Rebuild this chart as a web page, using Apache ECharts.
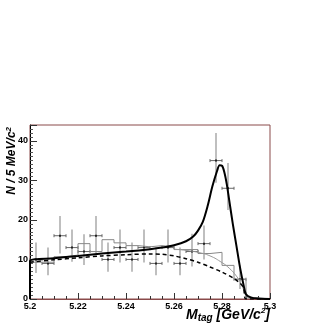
<!DOCTYPE html>
<html>
<head>
<meta charset="utf-8">
<script src="https://cdn.jsdelivr.net/npm/echarts@6/dist/echarts.min.js"></script>
<style>
  html, body { margin: 0; padding: 0; background: #fff; }
  #main { width: 324px; height: 324px; }
</style>
</head>
<body>
<div id="main"></div>
<script>
// bin centres of the data points (5 MeV bins)
const binCenters = [5.2025, 5.2075, 5.2125, 5.2175, 5.2225, 5.2275, 5.2325, 5.2375, 5.2425,
  5.2475, 5.2525, 5.2575, 5.2625, 5.2675, 5.2725, 5.2775, 5.2825, 5.2875];
const counts = [10, 9, 16, 13, 12, 16, 10, 13, 10, 13, 9, 13, 9, 12, 14, 35, 28, 5];
const errHi  = [14.3, 13, 21, 17.6, 16.4, 21, 14.3, 17.6, 14.3, 17.6, 13, 17.6, 13, 16.5, 18.6, 42, 34.4, 8.5];
const errLo  = [6.6, 6, 11.5, 9.4, 8.6, 11.5, 6.9, 9.2, 6.9, 9.2, 6, 9.2, 6, 8.2, 10, 29.4, 22.5, 2.5];

// grey histogram (MC), bin edges and contents
const histEdges = [5.200, 5.205, 5.210, 5.215, 5.220, 5.225, 5.230, 5.235, 5.240, 5.245, 5.250,
  5.255, 5.260, 5.265, 5.270, 5.275, 5.280, 5.285, 5.290, 5.295, 5.300];
const histVals = [9.3, 9.3, 10.7, 11.1, 14, 12, 15, 14.2, 13.5, 13.2, 13.5, 13.2, 12.5, 12.5,
  11.5, 11.8, 8.5, 5, 0.3, 0];

// total fit (solid)
const fitX = [5.2, 5.2, 5.21, 5.22, 5.23, 5.24, 5.25, 5.255, 5.26, 5.265, 5.268, 5.27, 5.272, 5.274,
  5.276, 5.278, 5.279, 5.28, 5.281, 5.282, 5.283, 5.2845, 5.286, 5.2875, 5.289, 5.29, 5.292, 5.295, 5.3];
const fitY = [0, 9.6, 10.3, 10.9, 11.5, 12.0, 12.6, 13.0, 13.6, 14.6, 15.8, 17.3, 19.5, 23.5,
  28.5, 32.5, 33.8, 33.7, 32, 29, 25, 19, 13.5, 8, 3.5, 1.2, 0.4, 0.1, 0];

// background (dashed)
const bkgX = [5.2, 5.21, 5.22, 5.23, 5.24, 5.25, 5.255, 5.26, 5.265, 5.27, 5.275, 5.28, 5.285,
  5.2875, 5.289, 5.29, 5.3];
const bkgY = [9.3, 9.9, 10.4, 10.9, 11.2, 11.4, 11.3, 10.9, 10.2, 9.3, 8.1, 6.8, 5.2, 4.0, 2.8, 0, 0];

// grey smooth curve on the histogram
const mcX = [5.26, 5.265, 5.27, 5.275, 5.28, 5.283, 5.286, 5.288, 5.29];
const mcY = [12.6, 12.3, 11.8, 10.9, 9.2, 7.8, 5.8, 3.8, 0.5];

const histData = [];
histVals.forEach((v, i) => {
  histData.push([histEdges[i], v]);
  histData.push([histEdges[i + 1], v]);
});

const pointData = binCenters.map((c, i) => [c, counts[i], errLo[i], errHi[i]]);

const chart = echarts.init(document.getElementById('main'));
const font = 'Liberation Sans, Arial, sans-serif';
const frameColor = '#8a4a4a';

chart.setOption({
  animation: false,
  grid: { left: 30, right: 54, top: 125, bottom: 25, show: true, borderColor: frameColor, borderWidth: 1 },
  xAxis: {
    type: 'value', min: 5.2, max: 5.3, interval: 0.02,
    axisLine: { onZero: false, lineStyle: { color: frameColor, width: 1 } },
    axisTick: { inside: true, length: 6, lineStyle: { color: '#333' } },
    minorTick: { show: true, splitNumber: 4, length: 3, lineStyle: { color: '#333' } },
    splitLine: { show: false },
    axisLabel: {
      color: '#000', fontFamily: font, fontWeight: 'bold', fontSize: 9, margin: 3,
      formatter: v => String(+v.toFixed(2))
    }
  },
  yAxis: {
    type: 'value', min: 0, max: 44, interval: 10,
    axisLine: { lineStyle: { color: '#000', width: 1 } },
    axisTick: { inside: true, length: 7, lineStyle: { color: '#333' } },
    minorTick: { show: true, splitNumber: 10, length: 3, lineStyle: { color: '#555' } },
    splitLine: { show: false },
    axisLabel: {
      color: '#000', fontFamily: font, fontWeight: 'bold', fontSize: 9, margin: 2,
      showMaxLabel: false
    }
  },
  series: [
    {
      type: 'line', data: histData, symbol: 'none', silent: true,
      lineStyle: { color: '#888', width: 1 }
    },
    {
      type: 'line', data: mcX.map((x, i) => [x, mcY[i]]), symbol: 'none', smooth: true,
      lineStyle: { color: '#999', width: 1 }
    },
    {
      type: 'custom',
      data: pointData,
      renderItem: (params, api) => {
        const c = api.value(0);
        const y = api.value(1);
        const lo = api.coord([c, api.value(2)]);
        const hi = api.coord([c, api.value(3)]);
        const l = api.coord([c - 0.0025, y]);
        const r = api.coord([c + 0.0025, y]);
        const m = api.coord([c, y]);
        return {
          type: 'group',
          children: [
            { type: 'line', shape: { x1: m[0], y1: hi[1], x2: m[0], y2: lo[1] },
              style: { stroke: '#aaa', lineWidth: 1.5 } },
            { type: 'line', shape: { x1: l[0], y1: l[1], x2: r[0], y2: r[1] },
              style: { stroke: '#666', lineWidth: 1 } },
            { type: 'line', shape: { x1: l[0], y1: l[1] - 1.5, x2: l[0], y2: l[1] + 1.5 },
              style: { stroke: '#666', lineWidth: 1 } },
            { type: 'line', shape: { x1: r[0], y1: r[1] - 1.5, x2: r[0], y2: r[1] + 1.5 },
              style: { stroke: '#666', lineWidth: 1 } },
            { type: 'rect', shape: { x: m[0] - 1, y: m[1] - 1, width: 2, height: 2 },
              style: { fill: '#222' } }
          ]
        };
      }
    },
    {
      type: 'line', data: bkgX.map((x, i) => [x, bkgY[i]]), symbol: 'none', smooth: 0.3,
      lineStyle: { color: '#000', width: 1.5, type: [4, 3] }
    },
    {
      type: 'line', data: fitX.map((x, i) => [x, fitY[i]]), symbol: 'none', smooth: 0.3,
      lineStyle: { color: '#000', width: 2 }
    }
  ],
  graphic: [
    {
      type: 'text', left: 5, top: 127, rotation: Math.PI / 2,
      style: {
        text: '{a|N / 5 MeV/c}{s|2}',
        rich: {
          a: { fontFamily: font, fontWeight: 'bold', fontStyle: 'italic', fontSize: 12, fill: '#000' },
          s: { fontFamily: font, fontWeight: 'bold', fontStyle: 'italic', fontSize: 8, fill: '#000', padding: [0, 0, 6, 0] }
        }
      }
    },
    {
      type: 'text', right: 54, top: 307,
      style: {
        text: '{a|M}{t|tag}{a| [GeV/c}{s|2}{a|]}',
        rich: {
          a: { fontFamily: font, fontWeight: 'bold', fontStyle: 'italic', fontSize: 14, fill: '#000' },
          t: { fontFamily: font, fontWeight: 'bold', fontStyle: 'italic', fontSize: 10, fill: '#000', padding: [6, 0, 0, 0] },
          s: { fontFamily: font, fontWeight: 'bold', fontStyle: 'italic', fontSize: 8, fill: '#000', padding: [0, 0, 8, 0] }
        }
      }
    }
  ]
});
</script>
</body>
</html>
